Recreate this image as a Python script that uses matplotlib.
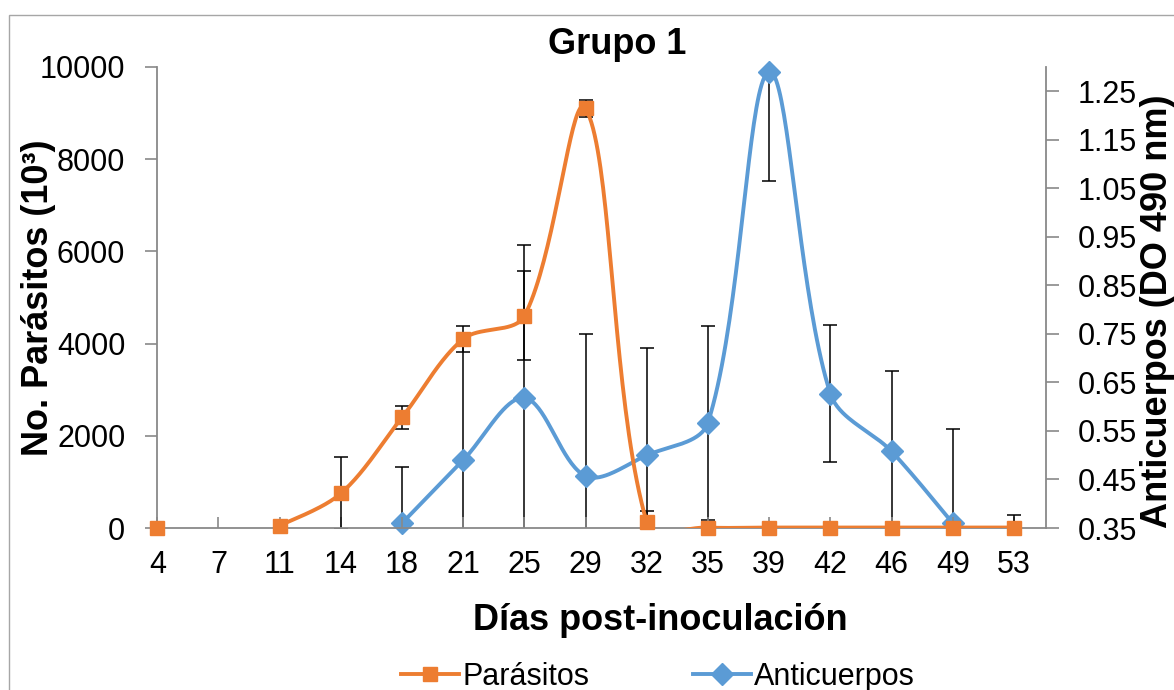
import numpy as np
import matplotlib
matplotlib.use('Agg')
import matplotlib.pyplot as plt
from matplotlib.lines import Line2D
from matplotlib.patches import Rectangle

# Datos
dias = ['4', '7', '11', '14', '18', '21', '25', '29', '32', '35', '39', '42', '46', '49', '53']
parasitos = [0, np.nan, 50, 750, 2400, 4100, 4600, 9100, 120, 10, 10, 10, 10, 10, 10]
parasitos_err = [0, np.nan, 0, 780, 250, 280, 965, 190, 250, 100, 30, 50, 0, 0, 270]
anticuerpos = [np.nan, np.nan, np.nan, np.nan, 0.36, 0.49, 0.618, 0.457, 0.50,
               0.567, 1.29, 0.627, 0.508, 0.36, np.nan]
anticuerpos_err = [np.nan, np.nan, np.nan, np.nan, 0.115, 0.25, 0.316, 0.293, 0.22,
                   0.20, 0.225, 0.142, 0.165, 0.195, np.nan]

naranja = '#ED7D31'
azul = '#5B9BD5'
gris = '#898989'

plt.rcParams['font.family'] = ['Liberation Sans', 'DejaVu Sans']

W, H = 1174, 690
ANCHO_EJE, ALTO_EJE = 888.4, 461.0
XMAX = 14.52


def suavizar(x, y, ymin, ymax, n=40):
    # curva suavizada parecida a la de Excel, calculada en píxeles
    ex = ANCHO_EJE / XMAX
    ey = ALTO_EJE / (ymax - ymin)
    X = np.asarray(x, float) * ex
    Y = (np.asarray(y, float) - ymin) * ey
    xs, ys = [], []
    validos = ~np.isnan(Y)
    i = 0
    while i < len(Y):
        if not validos[i]:
            i += 1
            continue
        j = i
        while j + 1 < len(Y) and validos[j + 1]:
            j += 1
        P = np.column_stack([X[i:j + 1], Y[i:j + 1]])
        m = len(P)
        for k in range(m - 1):
            p1, p2 = P[k], P[k + 1]
            d1 = np.hypot(*(p2 - p1))
            if k > 0:
                d0 = np.hypot(*(p1 - P[k - 1]))
                c1 = p1 + (p2 - P[k - 1]) * d1 / (d0 + d1) / 3
            else:
                c1 = p1 + (p2 - p1) / 6
            if k + 2 < m:
                d2 = np.hypot(*(P[k + 2] - p2))
                c2 = p2 - (P[k + 2] - p1) * d1 / (d1 + d2) / 3
            else:
                c2 = p2 - (p2 - p1) / 6
            t = np.linspace(0, 1, n)[:, None]
            b = (1 - t) ** 3 * p1 + 3 * (1 - t) ** 2 * t * c1 + 3 * (1 - t) * t ** 2 * c2 + t ** 3 * p2
            xs.extend(b[:, 0])
            ys.extend(b[:, 1])
        xs.append(np.nan)
        ys.append(np.nan)
        i = j + 1
    return np.array(xs) / ex, np.array(ys) / ey + ymin


fig = plt.figure(figsize=(W / 100, H / 100), dpi=100)
ax = fig.add_axes([157.3 / W, 1 - 528 / H, ANCHO_EJE / W, ALTO_EJE / H])
ax2 = ax.twinx()
ax.set_zorder(ax2.get_zorder() + 1)
ax.patch.set_visible(False)

x = np.arange(len(dias))

# Anticuerpos (eje derecho)
ax2.errorbar(x, anticuerpos, yerr=anticuerpos_err, fmt='none', ecolor='black',
             elinewidth=1.1, capsize=5, capthick=1.1, zorder=2)
sx, sy = suavizar(x, anticuerpos, 0.35, 1.30)
ax2.plot(sx, sy, color=azul, lw=2.8, zorder=3, solid_capstyle='round')
ax2.plot(x, anticuerpos, ls='none', marker='D', ms=11.5, color=azul, clip_on=False, zorder=4)

# Parásitos (eje izquierdo)
ax.errorbar(x, parasitos, yerr=parasitos_err, fmt='none', ecolor='black',
            elinewidth=1.1, capsize=5, capthick=1.1, zorder=2)
sx, sy = suavizar(x, parasitos, 0, 10000)
ax.plot(sx, sy, color=naranja, lw=2.8, zorder=3, solid_capstyle='round')
ax.plot(x, parasitos, ls='none', marker='s', ms=10, color=naranja, clip_on=False, zorder=4)

ax.set_xlim(0, XMAX)
ax.set_xticks(x)
ax.set_xticklabels(dias)
ax.set_ylim(0, 10000)
ax.set_yticks(range(0, 10001, 2000))
ax2.set_ylim(0.35, 1.30)
ticks_der = [0.35, 0.45, 0.55, 0.65, 0.75, 0.85, 0.95, 1.05, 1.15, 1.25]
ax2.set_yticks(ticks_der)
ax2.set_yticklabels(['%.2f' % t for t in ticks_der])

for a in (ax, ax2):
    a.spines['top'].set_visible(False)
    for s in ('left', 'right', 'bottom'):
        a.spines[s].set_color(gris)
        a.spines[s].set_linewidth(1.3)
ax.spines['right'].set_visible(False)
ax2.spines['left'].set_visible(False)
ax2.spines['bottom'].set_visible(False)

ax.tick_params(axis='y', direction='out', length=9, width=1.2, color=gris, pad=14, labelsize=22)
ax.tick_params(axis='x', direction='in', length=8, width=1.2, color=gris, pad=16, labelsize=22)
ax2.tick_params(axis='y', direction='out', length=9, width=1.2, color=gris, pad=14, labelsize=22)

ax.set_ylabel('No. Parásitos (10³)', fontsize=26, fontweight='bold')
ax.yaxis.set_label_coords(-0.114, 0.5)
ax2.set_ylabel('Anticuerpos (DO 490 nm)', fontsize=26, fontweight='bold', rotation=90)
ax2.yaxis.set_label_coords(1.106, 0.47)

fig.text(617 / W, 1 - 54 / H, 'Grupo 1', fontsize=26, fontweight='bold',
         ha='center', va='baseline')
fig.text(660 / W, 1 - 620 / H, 'Días post-inoculación', fontsize=26, fontweight='bold',
         ha='center', va='center')

manejadores = [
    Line2D([], [], color=naranja, lw=2.8, marker='s', ms=10),
    Line2D([], [], color=azul, lw=2.8, marker='D', ms=11.5),
]
fig.legend(manejadores, ['Parásitos', 'Anticuerpos'], loc='center', ncol=2,
           bbox_to_anchor=(658 / W, 1 - 677 / H), frameon=False, fontsize=22,
           handlelength=1.9, handletextpad=0.1, columnspacing=3.4)

# marco del gráfico
fig.add_artist(Rectangle((9 / W, -0.5), 2, 1 - 15 / H + 0.5, transform=fig.transFigure,
                         fill=False, edgecolor='#a6a6a6', lw=1))

fig.savefig('out.png', dpi=100)
